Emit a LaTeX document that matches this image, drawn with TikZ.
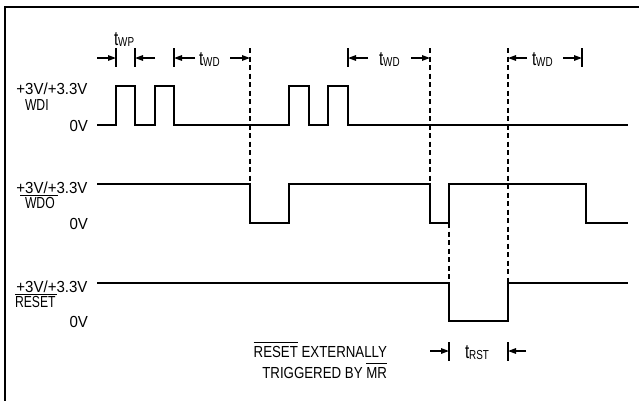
\documentclass[tikz,border=0pt]{standalone}
\usepackage{fontspec}
\setmainfont{Liberation Sans}[FakeStretch=0.76]
\newfontfamily\voltfont{Liberation Sans}[FakeStretch=0.94]
\newfontfamily\botfont{Liberation Sans}[FakeStretch=0.83]
\usetikzlibrary{arrows.meta}
\newcommand\ovl[2]{\leavevmode\vbox{\hrule height 1pt\kern#1\hbox{#2}}}
\newcommand\tsub[1]{{\fontsize{20}{22}\selectfont t}\raisebox{-1.5pt}{\fontsize{13}{15}\selectfont #1}}
\begin{document}
\begin{tikzpicture}[x=1pt,y=-1pt,
  sig/.style={line width=1.6pt, line join=miter},
  frameline/.style={line width=2pt},
  guide/.style={line width=1.1pt, dash pattern=on 5pt off 3.5pt},
  tick/.style={line width=1.4pt},
  dimarrow/.style={line width=1.4pt,-{Triangle[length=8pt,width=5.5pt]}},
  lab/.style={inner sep=0pt, outer sep=0pt, font=\fontsize{16}{18}\selectfont},
  volt/.style={inner sep=0pt, outer sep=0pt, font=\voltfont\fontsize{16}{18}\selectfont},
  bot/.style={inner sep=0pt, outer sep=0pt, font=\botfont\fontsize{16}{18}\selectfont},
  tlab/.style={inner sep=0pt, outer sep=0pt, anchor=base west}]
\useasboundingbox (0,0) rectangle (639,400);
\fill[white] (0,0) rectangle (639,400);
% frame (cropped on right and bottom)
\draw[frameline] (5,402) -- (5,7) -- (642,7);

% ---------- signal labels ----------
\node[volt, anchor=base east] (wdiv) at (87.5,94.5) {+3V/+3.3V};
\node[lab, anchor=base west] (wdin) at (25,110) {WDI};
\node[volt, anchor=base east] (wdi0) at (88,131) {0V};

\node[volt, anchor=base east] (wdov) at (87.5,193) {+3V/+3.3V};
\node[lab, anchor=base west] (wdon) at (25,208.5) {WDO};
\node[volt, anchor=base east] (wdo0) at (88,229) {0V};
\draw[line width=1pt] (20,195) -- (58,195);

\node[volt, anchor=base east] (rstv) at (87.5,292) {+3V/+3.3V};
\node[lab, anchor=base west] (rstn) at (15,307.5) {RESET};
\node[volt, anchor=base east] (rst0) at (88,327) {0V};
\draw[line width=1pt] (15,294) -- (57,294);

% ---------- waveforms ----------
\draw[sig] (97,125) -- (116,125) -- (116,86) -- (135,86) -- (135,125)
  -- (155,125) -- (155,86) -- (174,86) -- (174,125)
  -- (289,125) -- (289,86) -- (309,86) -- (309,125)
  -- (328,125) -- (328,86) -- (348,86) -- (348,125) -- (628,125);

\draw[sig] (97,184) -- (250,184) -- (250,223) -- (289,223) -- (289,184)
  -- (430,184) -- (430,223) -- (449,223) -- (449,184)
  -- (586,184) -- (586,223) -- (628,223);

\draw[sig] (97,283) -- (449,283) -- (449,321) -- (508,321) -- (508,283) -- (628,283);

% ---------- dashed guides ----------
\draw[guide] (250,48) -- (250,184);
\draw[guide] (430,48) -- (430,184);
\draw[guide] (449,223) -- (449,283);
\draw[guide] (508,48) -- (508,283);

% ---------- timing dimensions ----------
\coordinate (wpA) at (116,58);
\coordinate (wpB) at (135,58);
\coordinate (wdA) at (174,58);
\coordinate (wdB) at (250,58);
\coordinate (wdC) at (348,58);
\coordinate (wdD) at (430,58);
\coordinate (wdE) at (508,58);
\coordinate (wdF) at (582,58);
\coordinate (rsA) at (449,351);
\coordinate (rsB) at (508,351);

\draw[tick] (116,48) -- (116,67);
\draw[tick] (135,48) -- (135,67);
\draw[tick] (174,48) -- (174,67);
\draw[tick] (348,48) -- (348,67);
\draw[tick] (582,48) -- (582,67);
\draw[tick] (449,342) -- (449,361);
\draw[tick] (508,342) -- (508,361);

\draw[dimarrow] ([xshift=-19pt]wpA) -- (wpA);
\draw[dimarrow] ([xshift=20pt]wpB) -- (wpB);
\draw[dimarrow] ([xshift=21pt]wdA) -- (wdA);
\draw[dimarrow] ([xshift=-20pt]wdB) -- (wdB);
\draw[dimarrow] ([xshift=20pt]wdC) -- (wdC);
\draw[dimarrow] ([xshift=-19pt]wdD) -- (wdD);
\draw[dimarrow] ([xshift=19pt]wdE) -- (wdE);
\draw[dimarrow] ([xshift=-19pt]wdF) -- (wdF);
\draw[dimarrow] ([xshift=-19pt]rsA) -- (rsA);
\draw[dimarrow] ([xshift=18pt]rsB) -- (rsB);

\node[tlab] (twp) at (114,45) {\tsub{WP}};
\node[tlab] (twd1) at (199,65) {\tsub{WD}};
\node[tlab] (twd2) at (379,65) {\tsub{WD}};
\node[tlab] (twd3) at (532,65) {\tsub{WD}};
\node[tlab] (trst) at (465,358) {\tsub{RST}};

% ---------- note ----------
\node[bot, anchor=base east] (note1) at (387,357) {\ovl{2.5pt}{RESET} EXTERNALLY};
\node[bot, anchor=base east] (note2) at (387,378) {TRIGGERED BY \ovl{3.5pt}{MR}};
\end{tikzpicture}
\end{document}
